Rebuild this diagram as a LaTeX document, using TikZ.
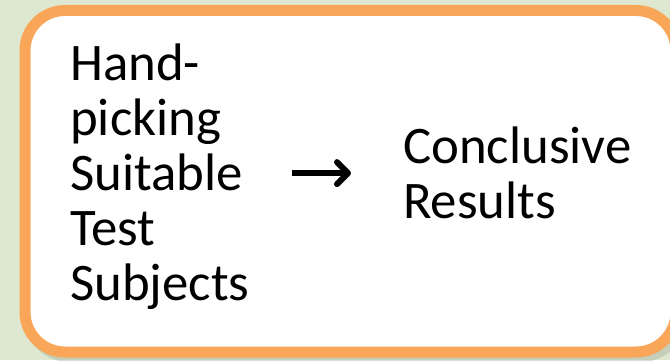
\documentclass[tikz,border=0pt]{standalone}
\usepackage{fontspec}
\setmainfont{Carlito}
\usetikzlibrary{positioning,arrows.meta}
\definecolor{bggreen}{RGB}{222,232,208}
\definecolor{boxorange}{RGB}{249,166,89}
\definecolor{boxshade}{RGB}{150,160,140}
\newcommand{\SlideText}{\fontsize{53}{55}\selectfont}

\begin{document}
\begin{tikzpicture}[x=1bp,y=1bp]
  \tikzset{
    slidetext/.style={inner sep=0pt, align=left, anchor=north west, font=\SlideText},
    arrowline/.style={line width=6.5bp, -{Straight Barb[length=11bp,width=22bp,line width=6bp,round]}},
  }

  %% page
  \useasboundingbox (0,0) rectangle (670,360);
  \clip (0,0) rectangle (670,360);
  \fill[bggreen] (0,0) rectangle (670,360);

  %% box with its shadow
  \draw[boxshade, opacity=.35, line width=13bp, rounded corners=42bp] (29,4) rectangle (681,345);
  \draw[boxorange, fill=white, line width=11bp, rounded corners=40bp] (25,8) rectangle (676,349.5);

  %% texts
  \node[slidetext] (handpick) at (70,316) {Hand-\\picking\\Suitable\\Test\\Subjects};
  \node[slidetext] (results) at (403,233) {Conclusive\\Results};

  \draw[arrowline] ([xshift=42bp]handpick.east |- results.west) -- ([xshift=-52bp]results.west); %% handpick->results

\end{tikzpicture}
\end{document}
